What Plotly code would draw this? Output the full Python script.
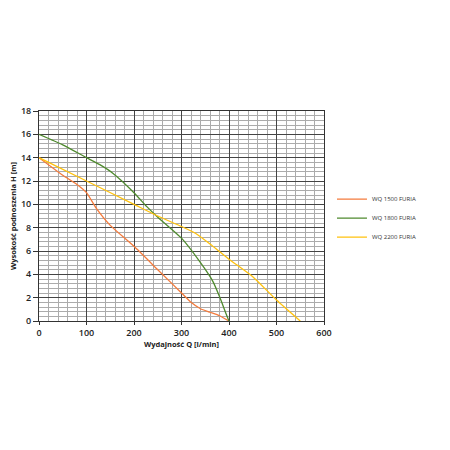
import plotly.graph_objects as go

q1500 = [0, 50, 80, 100, 120, 150, 200, 250, 300, 320, 340, 360, 380, 400]
h1500 = [14, 12.5, 11.7, 11, 9.7, 8.2, 6.4, 4.4, 2.4, 1.6, 1.05, 0.75, 0.45, 0]

q1800 = [0, 50, 100, 128, 156, 200, 227, 250, 300, 340, 366, 380, 395, 400]
h1800 = [16, 15.1, 14, 13.4, 12.65, 11.0, 9.8, 8.9, 7.1, 5.0, 3.4, 2.1, 0.5, 0]

q2200 = [0, 100, 200, 250, 300, 330, 360, 400, 450, 500, 550]
h2200 = [14, 12, 10, 9.0, 8.1, 7.5, 6.6, 5.3, 3.8, 1.8, 0]

names = ["WQ 1500 FURIA", "WQ 1800 FURIA", "WQ 2200 FURIA"]
colors = ["#F47B3C", "#4F8A2E", "#FFC20E"]

x_ticks = [0, 100, 200, 300, 400, 500, 600]
y_ticks = [0, 2, 4, 6, 8, 10, 12, 14, 16, 18]

fig = go.Figure()
for q, h, n, c in zip([q1500, q1800, q2200], [h1500, h1800, h2200], names, colors):
    fig.add_trace(go.Scatter(x=q, y=h, mode="lines", name=n,
                             line=dict(color=c, width=1.3, shape="spline", smoothing=0.5)))

font = "Open Sans"
fig.update_layout(
    width=450, height=450,
    margin=dict(l=31, r=134, t=103, b=137),
    paper_bgcolor="white", plot_bgcolor="white",
    font=dict(family=font, color="#222", size=8),
    showlegend=True,
    legend=dict(x=1.028, y=0.49, xanchor="left", yanchor="middle",
                font=dict(size=6, color="#333"), bgcolor="rgba(0,0,0,0)",
                itemwidth=30, tracegroupgap=0),
)
fig.update_xaxes(
    range=[0, 600], tickvals=x_ticks, ticktext=[str(v) for v in x_ticks],
    automargin=False,
    showgrid=True, gridcolor="#444", gridwidth=1,
    minor=dict(dtick=20, showgrid=True, gridcolor="#ababab", gridwidth=0.8),
    showline=True, linecolor="#333", linewidth=1, mirror=True,
    ticks="outside", ticklen=3, tickcolor="#333",
    zeroline=False,
    tickfont=dict(size=9, color="#222", weight=600),
    title=dict(text="Wydajność Q [l/min]", font=dict(size=7.5, color="#222", weight=700), standoff=2),
)
fig.update_yaxes(
    range=[0, 18], tickvals=y_ticks, ticktext=[str(v) for v in y_ticks],
    automargin=False,
    showgrid=True, gridcolor="#444", gridwidth=1,
    minor=dict(dtick=0.4, showgrid=True, gridcolor="#ababab", gridwidth=0.8),
    showline=True, linecolor="#333", linewidth=1, mirror=True,
    ticks="outside", ticklen=5, tickcolor="#333",
    zeroline=False,
    tickfont=dict(size=9, color="#222", weight=600),
    title=dict(text="Wysokość podnoszenia H [m]", font=dict(size=7.5, color="#222", weight=700), standoff=4),
)
fig.write_html("out.html")
